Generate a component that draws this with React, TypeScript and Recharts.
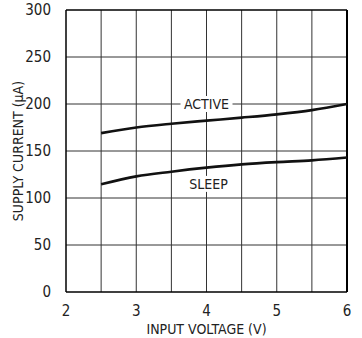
import React from "react";
import {
  LineChart,
  Line,
  XAxis,
  YAxis,
  ReferenceLine,
  ReferenceDot,
} from "recharts";

const voltage = [2.5, 3, 3.5, 4, 4.5, 5, 5.5, 6];
const activeCurrent = [169, 175, 179, 182.3, 185.5, 189, 193.5, 200];
const sleepCurrent = [114.5, 123, 128, 132.3, 135.8, 138.2, 140, 143];
const xTicks = [2, 3, 4, 5, 6];
const yTicks = [0, 50, 100, 150, 200, 250, 300];
const gridX = [2.5, 3, 3.5, 4, 4.5, 5, 5.5];
const gridY = [50, 100, 150, 200, 250];

const data = voltage.map((v, i) => ({
  v,
  active: activeCurrent[i],
  sleep: sleepCurrent[i],
}));

const FONT = "'Liberation Sans Narrow', 'DejaVu Sans Condensed', 'Liberation Sans', sans-serif";
const TEXT = "#222";

const makeLabel = (text: string, w: number) => (props: any) => {
  const { cx, cy } = props;
  return (
    <g>
      <rect x={cx - w / 2} y={cy - 8} width={w} height={16} fill="#fff" />
      <text
        x={cx}
        y={cy}
        textAnchor="middle"
        dominantBaseline="central"
        fontFamily={FONT}
        fontSize={14}
        fill={TEXT}
      >
        {text}
      </text>
    </g>
  );
};

export default function App() {
  return (
    <div style={{ position: "absolute", left: 0, top: 0, background: "#fff" }}>
      <LineChart
        width={362}
        height={338}
        data={data}
        margin={{ top: 10, right: 15, bottom: 0, left: 0 }}
      >
        <XAxis
          dataKey="v"
          type="number"
          domain={[2, 6]}
          ticks={xTicks}
          tickLine={false}
          axisLine={false}
          tick={{ fontFamily: FONT, fontSize: 15, fill: TEXT }}
          tickMargin={7}
          height={46}
          label={{
            value: "INPUT VOLTAGE (V)",
            position: "insideBottom",
            offset: 4,
            style: { fontFamily: FONT, fontSize: 14, fill: TEXT },
          }}
        />
        <YAxis
          type="number"
          domain={[0, 300]}
          ticks={yTicks}
          tickLine={false}
          axisLine={false}
          width={66}
          tickMargin={9}
          tick={{ fontFamily: FONT, fontSize: 15, fill: TEXT }}
          label={{
            value: "SUPPLY CURRENT (µA)",
            angle: -90,
            position: "insideLeft",
            offset: 18,
            style: { fontFamily: FONT, fontSize: 14, fill: TEXT, textAnchor: "middle" },
          }}
        />
        {gridX.map((x) => (
          <ReferenceLine key={"gx" + x} x={x} stroke="#333" strokeWidth={1} />
        ))}
        {gridY.map((y) => (
          <ReferenceLine key={"gy" + y} y={y} stroke="#333" strokeWidth={1} />
        ))}
        <ReferenceLine x={2} stroke="#000" strokeWidth={1.5} />
        <ReferenceLine x={6} stroke="#000" strokeWidth={2} />
        <ReferenceLine y={0} stroke="#000" strokeWidth={1.5} />
        <ReferenceLine y={300} stroke="#000" strokeWidth={1.5} />
        <Line
          type="monotone"
          dataKey="active"
          stroke="#111"
          strokeWidth={2.6}
          dot={false}
          isAnimationActive={false}
        />
        <Line
          type="monotone"
          dataKey="sleep"
          stroke="#111"
          strokeWidth={2.6}
          dot={false}
          isAnimationActive={false}
        />
        <ReferenceDot x={4} y={200} r={0} shape={makeLabel("ACTIVE", 52)} />
        <ReferenceDot x={4.03} y={115} r={0} shape={makeLabel("SLEEP", 46)} />
      </LineChart>
    </div>
  );
}
